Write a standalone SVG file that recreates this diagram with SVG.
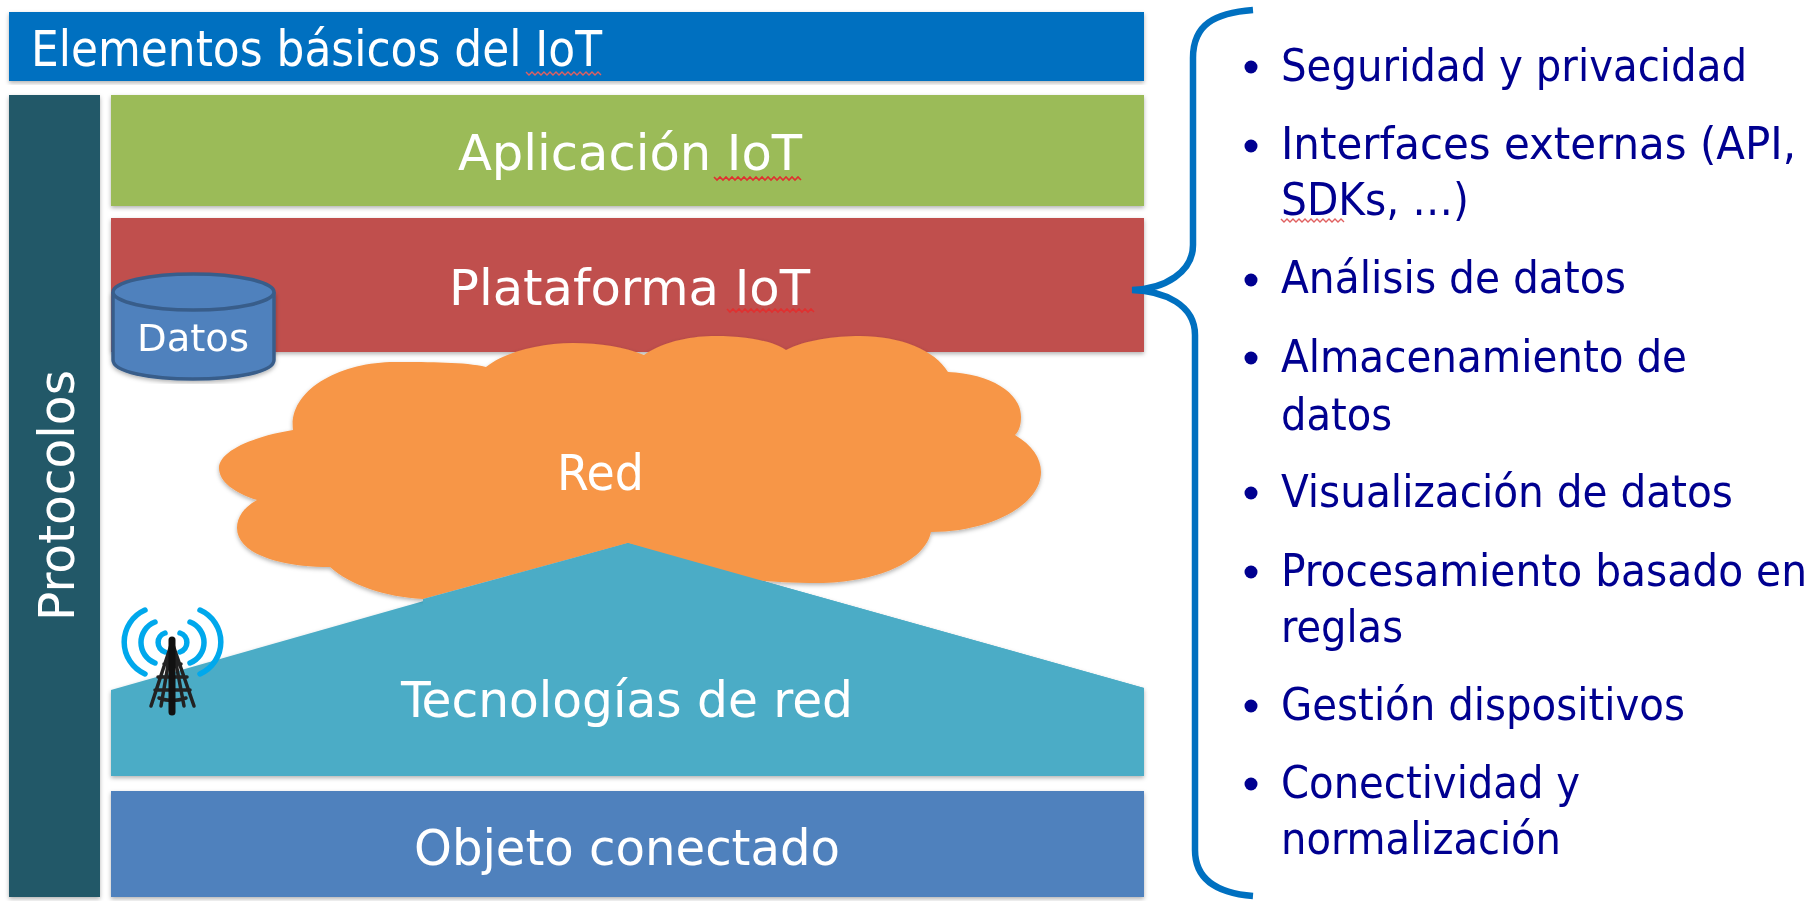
<svg xmlns="http://www.w3.org/2000/svg" width="1814" height="901" viewBox="0 0 1814 901">
<defs>
<filter id="sh" x="-5%" y="-5%" width="110%" height="110%"><feDropShadow dx="0" dy="2" stdDeviation="2" flood-color="#000" flood-opacity=".3"/></filter>
<filter id="soft" x="-5%" y="-20%" width="110%" height="140%"><feGaussianBlur stdDeviation=".7"/></filter>
</defs>
<style>
text{font-family:"DejaVu Sans","Liberation Sans",sans-serif;font-stretch:condensed;filter:url(#soft)}
.w{fill:#fff;font-size:49px}
.b{fill:#000090;font-size:44px}
.sq{fill:none;stroke:#e03030;stroke-width:1.6}
.sq2{fill:none;stroke:#e06060;stroke-width:1.4}
.s{filter:url(#sh)}
.dot{fill:#000090}
.arc{fill:none;stroke:#00a8ec;stroke-width:5.500;stroke-linecap:round}
.tw{fill:none;stroke:#222;stroke-width:3.500;stroke-linecap:round}
</style>
<rect width="1814" height="901" fill="#fff"/>
<g id="elementos">
<rect class="s" x="9" y="12" width="1135" height="69" fill="#0070c0"/>
<text class="w" x="31" y="66" textLength="571" lengthAdjust="spacingAndGlyphs">Elementos básicos del IoT</text>
<path class="sq2" d="M526 72l3 3 3-3 3 3 3-3 3 3 3-3 3 3 3-3 3 3 3-3 3 3 3-3 3 3 3-3 3 3 3-3 3 3 3-3 3 3 3-3 3 3 3-3 3 3 3-3 3 3"/>
</g>
<g id="protocolos">
<rect class="s" x="9" y="95" width="91" height="802" fill="#215968"/>
<text class="w" transform="translate(74 621) rotate(-90)" textLength="251" lengthAdjust="spacingAndGlyphs">Protocolos</text>
</g>
<g id="aplicacion">
<rect class="s" x="111" y="95" width="1033" height="111" fill="#9bbb59"/>
<text class="w" x="458" y="170" textLength="344" lengthAdjust="spacingAndGlyphs">Aplicación IoT</text>
<path class="sq" d="M714 177l3 3 3-3 3 3 3-3 3 3 3-3 3 3 3-3 3 3 3-3 3 3 3-3 3 3 3-3 3 3 3-3 3 3 3-3 3 3 3-3 3 3 3-3 3 3 3-3 3 3 3-3 3 3 3-3 3 3"/>
</g>
<g id="plataforma">
<rect class="s" x="111" y="218" width="1033" height="134" fill="#c0504d"/>
<text class="w" x="449" y="305" textLength="361" lengthAdjust="spacingAndGlyphs">Plataforma IoT</text>
<path class="sq" d="M727 309l3 3 3-3 3 3 3-3 3 3 3-3 3 3 3-3 3 3 3-3 3 3 3-3 3 3 3-3 3 3 3-3 3 3 3-3 3 3 3-3 3 3 3-3 3 3 3-3 3 3 3-3 3 3 3-3 3 3"/>
</g>
<g id="datos">
<path class="s" d="M113 292V360C113 372 150 379 193 379S274 372 274 360V292" fill="#4f81bd" stroke="#385d8a" stroke-width="3.500"/>
<ellipse cx="193.500" cy="292" rx="80.500" ry="18" fill="#4f81bd" stroke="#385d8a" stroke-width="3.500"/>
<text class="w" x="137" y="351" style="font-size:38px" textLength="112" lengthAdjust="spacingAndGlyphs">Datos</text>
</g>
<g id="tecnologias">
<path class="s" d="M111 690L628 543L1144 688V776H111Z" fill="#4bacc6"/>
</g>
<g id="red">
<path class="s" d="M644 355C665 340 695 336 715 336C745 336 770 340 786 350C805 340 835 336 860 336C900 336 935 350 948 372C990 374 1021 392 1021 417C1021 425 1019 431 1015 435C1032 445 1041 458 1041 472C1041 505 990 532 931 532C925 562 875 583 818 583C785 583 760 581 738 578L628 543L423 599C385 597 350 585 330 567C275 567 237 552 237 528C237 517 244 507 257 500C235 493 219 482 219 468C219 452 250 437 293 430C288 390 340 362 395 362C430 362 465 362 486 367C505 352 540 343 573 343C600 343 625 347 644 355Z" fill="#f79646"/>
<path d="M423 599L628 543L1144 688V776H423Z" fill="#4bacc6"/>
<text class="w" x="557" y="490" textLength="87" lengthAdjust="spacingAndGlyphs">Red</text>
</g>
<g id="tecnologias-texto">
<text class="w" x="401" y="717" textLength="452" lengthAdjust="spacingAndGlyphs">Tecnologías de red</text>
</g>
<g id="torre">
<path class="arc" d="M165 633A10 10 0 0 0 165 652M180 633A10 10 0 0 1 180 652"/>
<path class="arc" d="M155 622A22 22 0 0 0 155 663M190 622A22 22 0 0 1 190 663"/>
<path class="arc" d="M145 610A35 35 0 0 0 145 674M200 610A35 35 0 0 1 200 674"/>
<path class="tw" d="M172 642L151 706M172 642L194 706M172 642L161 706M172 642L184 706M164 664H181M158 677H187M155 690H190M159 698Q172 703 186 698"/>
<path d="M172 640V712" fill="none" stroke="#111" stroke-width="7" stroke-linecap="round"/>
</g>
<g id="objeto">
<rect class="s" x="111" y="791" width="1033" height="106" fill="#4f81bd"/>
<text class="w" x="414" y="865" textLength="426" lengthAdjust="spacingAndGlyphs">Objeto conectado</text>
</g>
<g id="conectores">
<path d="M1253 10C1215 13 1193 24 1193 58V245C1193 272 1165 289 1132 290C1165 291 1195 305 1195 335V850C1195 878 1215 893 1253 896" fill="none" stroke="#0070c0" stroke-width="6.500"/>
</g>
<g id="lista">
<circle class="dot" cx="1251" cy="67" r="6.500"/>
<text class="b" x="1281" y="81" textLength="466" lengthAdjust="spacingAndGlyphs">Seguridad y privacidad</text>
<circle class="dot" cx="1251" cy="146" r="6.500"/>
<text class="b" x="1281" y="159" textLength="515" lengthAdjust="spacingAndGlyphs">Interfaces externas (API,</text>
<text class="b" x="1281" y="215" textLength="188" lengthAdjust="spacingAndGlyphs">SDKs, …)</text>
<path class="sq2" d="M1281 219l3 3 3-3 3 3 3-3 3 3 3-3 3 3 3-3 3 3 3-3 3 3 3-3 3 3 3-3 3 3 3-3 3 3 3-3 3 3 3-3 3 3"/>
<circle class="dot" cx="1251" cy="280" r="6.500"/>
<text class="b" x="1281" y="293" textLength="345" lengthAdjust="spacingAndGlyphs">Análisis de datos</text>
<circle class="dot" cx="1251" cy="358" r="6.500"/>
<text class="b" x="1281" y="372" textLength="406" lengthAdjust="spacingAndGlyphs">Almacenamiento de</text>
<text class="b" x="1281" y="430" textLength="111" lengthAdjust="spacingAndGlyphs">datos</text>
<circle class="dot" cx="1251" cy="493" r="6.500"/>
<text class="b" x="1281" y="507" textLength="452" lengthAdjust="spacingAndGlyphs">Visualización de datos</text>
<circle class="dot" cx="1251" cy="572" r="6.500"/>
<text class="b" x="1281" y="586" textLength="526" lengthAdjust="spacingAndGlyphs">Procesamiento basado en</text>
<text class="b" x="1281" y="642" textLength="122" lengthAdjust="spacingAndGlyphs">reglas</text>
<circle class="dot" cx="1251" cy="706" r="6.500"/>
<text class="b" x="1281" y="720" textLength="404" lengthAdjust="spacingAndGlyphs">Gestión dispositivos</text>
<circle class="dot" cx="1251" cy="784" r="6.500"/>
<text class="b" x="1281" y="798" textLength="299" lengthAdjust="spacingAndGlyphs">Conectividad y</text>
<text class="b" x="1281" y="854" textLength="280" lengthAdjust="spacingAndGlyphs">normalización</text>
</g>
</svg>
